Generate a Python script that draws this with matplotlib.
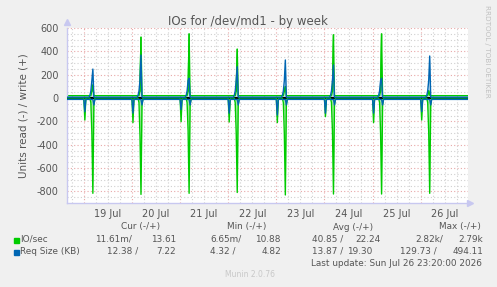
import matplotlib.pyplot as plt
import numpy as np

W, H = 497, 287

# hours since 19 Jul 00:00, one spike group per day (19 Jul .. 26 Jul)
days = [0, 1, 2, 3, 4, 5, 6, 7]
day_labels = ['19 Jul', '20 Jul', '21 Jul', '22 Jul', '23 Jul', '24 Jul', '25 Jul', '26 Jul']
dip_io_read = [-189, -211, -203, -206, -211, -160, -211, -189]
dip_req_read = [-117, -130, -100, -130, -146, -130, -130, -117]
pre_io_read = [-300, -320, -280, -300, -310, -290, -300, -290]
spike_io_read = [-817, -826, -817, -810, -831, -823, -823, -817]
spike_io_write = [110, 520, 548, 417, 97, 540, 548, 26]
spike_req_write = [248, 368, 169, 268, 326, 283, 169, 360]
base_io_write = 20
base_io_read = 0
base_req_write = 7
base_req_read = -12
t_start, t_end = -8.4, 191.6

legend_rows = [
    ('IO/sec', '#00CC00', ['11.61m/', '13.61', '6.65m/', '10.88', '40.85 /', '22.24', '2.82k/', '2.79k']),
    ('Req Size (KB)', '#0066B3', ['12.38 /', '7.22', '4.32 /', '4.82', '13.87 /', '19.30', '129.73 /', '494.11']),
]
headers = ['Cur (-/+)', 'Min (-/+)', 'Avg (-/+)', 'Max (-/+)']


def build(base, events):
    # events: list of (hour offset in day, values per day)
    t = [t_start]
    v = [base]
    for i, d in enumerate(days):
        for off, vals in events:
            t.append(d * 24 + off)
            v.append(base if vals is None else vals[i])
    t.append(t_end)
    v.append(base)
    return np.array(t), np.array(v)


io_read_t, io_read = build(base_io_read, [
    (0.0, None), (0.5, dip_io_read), (1.0, None),
    (3.0, None), (3.5, [-40] * 8), (4.0, pre_io_read), (4.5, spike_io_read), (5.0, [-60] * 8), (5.5, None)])
io_write_t, io_write = build(base_io_write, [
    (3.5, None), (4.0, [60] * 8), (4.5, spike_io_write), (5.0, None)])
req_read_t, req_read = build(base_req_read, [
    (0.0, None), (0.5, dip_req_read), (1.0, None),
    (4.5, None), (5.0, [-60] * 8), (5.5, None)])
req_write_t, req_write = build(base_req_write, [
    (2.5, None), (3.0, [20] * 8), (3.5, [60] * 8), (4.0, [150] * 8),
    (4.5, spike_req_write), (5.0, None)])

fig = plt.figure(figsize=(W / 100, H / 100), dpi=100, facecolor='#f0f0f0')
ax = fig.add_axes([67 / W, 1 - 203 / H, 401 / W, 175 / H])
ax.set_facecolor('white')
ax.set_xlim(t_start, t_end)
ax.set_ylim(-900, 600)

# grid
for h in np.arange(-6, t_end, 6):
    if h % 24 == 0:
        ax.axvline(h, color='#e8a8a8', lw=0.8, ls=(0, (1, 2)), zorder=0)
    else:
        ax.axvline(h, color='#d0d0d0', lw=0.8, ls=(0, (1, 2)), zorder=0)
for y in np.arange(-850, 601, 50):
    if y % 200 == 0:
        ax.axhline(y, color='#e8a8a8', lw=0.8, ls=(0, (1, 2)), zorder=0)
    else:
        ax.axhline(y, color='#d0d0d0', lw=0.8, ls=(0, (1, 2)), zorder=0)

ax.fill_between(io_read_t, io_read, 0, color='#66dd66', alpha=0.6, lw=0, zorder=1)
ax.fill_between(req_write_t, req_write, 0, color='#6fa8d6', alpha=0.4, lw=0, zorder=1)
ax.plot(io_write_t, io_write, color='#00CC00', lw=1.0, zorder=2)
ax.axhline(0, color='black', lw=1.5, zorder=3)
ax.plot(io_read_t, io_read, color='#00CC00', lw=1.0, zorder=4)
ax.plot(io_write_t, np.where(io_write > base_io_write, io_write, np.nan), color='#00CC00', lw=1.0, zorder=4)
ax.plot(req_read_t, req_read, color='#0066B3', lw=1.0, zorder=5)
ax.plot(req_write_t, req_write, color='#0066B3', lw=1.0, zorder=5)

ax.set_yticks(np.arange(-800, 601, 200))
ax.set_yticklabels([str(v) for v in np.arange(-800, 601, 200)])
ax.set_xticks([d * 24 + 12 for d in days])
ax.set_xticklabels(day_labels)
ax.tick_params(axis='both', length=0, labelsize=7, colors='#555555')
ax.tick_params(axis='y', pad=6)
ax.tick_params(axis='x', pad=4)
for s in ['top', 'right']:
    ax.spines[s].set_visible(False)
for s in ['left', 'bottom']:
    ax.spines[s].set_color('#c8c8f0')
    ax.spines[s].set_linewidth(1.0)
ax.plot([0], [1.035], marker='^', color='#c8c8f0', ms=4, transform=ax.transAxes, clip_on=False)
ax.plot([1.005], [0], marker='>', color='#c8c8f0', ms=4, transform=ax.transAxes, clip_on=False)

ax.set_ylabel('Units read (-) / write (+)', fontsize=7.5, color='#555555', labelpad=6)

def ftext(x, y, s, **kw):
    kw.setdefault('fontsize', 6.4)
    kw.setdefault('color', '#555555')
    kw.setdefault('va', 'center')
    fig.text(x / W, 1 - y / H, s, **kw)

ftext(248, 21, 'IOs for /dev/md1 - by week', fontsize=8.5, ha='center')
ftext(487, 51, 'RRDTOOL / TOBI OETIKER', fontsize=5.2, color='#c0c0c0', ha='center', rotation=270)

for x, h in zip([121, 227, 333, 439], headers):
    ftext(x, 227, h, ha='left')

right_edges = [
    [132, 176, 242, 281, 343, 381, 443, 483],
    [138, 176, 235, 281, 343, 372, 437, 483],
]
for (name, col, vals), ys, xs in zip(legend_rows, [239.5, 251.5], right_edges):
    fig.patches.append(plt.Rectangle((14 / W, 1 - (ys + 3) / H), 5 / W, 5 / H,
                                     transform=fig.transFigure, color=col))
    ftext(20, ys, name, ha='left')
    for x, v in zip(xs, vals):
        ftext(x, ys, v, ha='right')

ftext(482, 263.5, 'Last update: Sun Jul 26 23:20:00 2026', ha='right')
ftext(225, 274.5, 'Munin 2.0.76', ha='left', fontsize=5.5, color='#c8c8c8')

fig.savefig('out.png', dpi=100, facecolor=fig.get_facecolor())
